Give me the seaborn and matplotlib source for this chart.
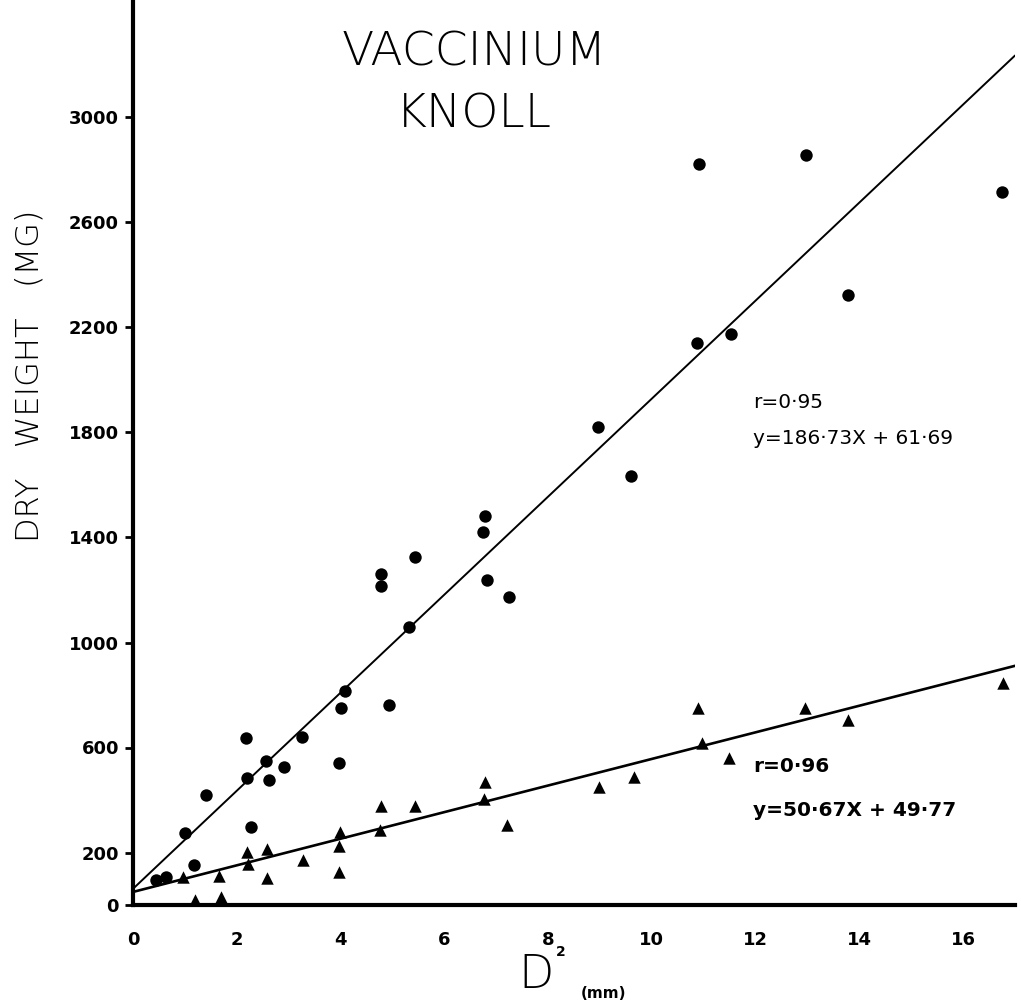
import matplotlib
matplotlib.use("Agg")
import matplotlib.pyplot as plt
import seaborn as sns
import numpy as np
import pandas as pd

# ---- data ----
total_x = [0.44, 0.64, 1.00, 1.18, 1.41, 2.18, 2.20, 2.27, 2.56, 2.62, 2.91, 3.26,
           4.01, 3.97, 4.08, 4.93, 4.78, 4.78, 5.43, 5.32, 6.78, 6.74, 6.82, 7.24,
           8.96, 9.60, 10.91, 10.87, 11.52, 12.97, 13.78, 16.74]
total_y = [95, 107, 274, 152, 419, 636, 484, 297, 549, 476, 526, 640,
           750, 541, 815, 762, 1261, 1215, 1326, 1059, 1482, 1421, 1238, 1173,
           1821, 1634, 2823, 2141, 2175, 2857, 2324, 2716]

leaf_x = [0.96, 1.19, 1.66, 1.70, 2.20, 2.22, 2.58, 2.58, 3.28, 3.99, 3.97, 3.97,
          4.76, 4.78, 5.43, 6.78, 6.76, 7.21, 8.98, 9.65, 10.89, 10.96, 11.48,
          12.95, 13.78, 16.76]
leaf_y = [107, 19, 110, 30, 202, 156, 213, 103, 171, 278, 225, 126,
          286, 377, 377, 469, 404, 305, 450, 488, 750, 617, 560,
          750, 706, 845]

fit_total = (186.73, 61.69)
fit_leaf = (50.67, 49.77)
x_ticks = [0, 2, 4, 6, 8, 10, 12, 14, 16]
y_ticks = [0, 200, 600, 1000, 1400, 1800, 2200, 2600, 3000]

title_lines = ["VACCINIUM", "KNOLL"]
eq_total = ["r=0·95", "y=186·73X + 61·69"]
eq_leaf = ["r=0·96", "y=50·67X + 49·77"]

# ---- figure ----
sns.set_theme(style="white")
plt.rcParams['font.family'] = ['DejaVu Sans']

W, H = 1021, 1008
fig = plt.figure(figsize=(W / 100, H / 100), dpi=100)
ax = fig.add_axes([133 / W, (H - 905) / H, (1015 - 133) / W, 905 / H])

df_t = pd.DataFrame({"x": total_x, "y": total_y})
df_l = pd.DataFrame({"x": leaf_x, "y": leaf_y})
sns.scatterplot(data=df_t, x="x", y="y", ax=ax, marker="o", s=80, color="black",
                edgecolor="black", linewidth=0, zorder=3)
sns.scatterplot(data=df_l, x="x", y="y", ax=ax, marker="^", s=80, color="black",
                edgecolor="black", linewidth=0, zorder=3)

xmax = 17.0
xs = np.array([0.0, xmax])
line_t = pd.DataFrame({"x": xs, "y": fit_total[0] * xs + fit_total[1]})
line_l = pd.DataFrame({"x": xs, "y": fit_leaf[0] * xs + fit_leaf[1]})
sns.lineplot(data=line_t, x="x", y="y", ax=ax, color="black", linewidth=1.4)
sns.lineplot(data=line_l, x="x", y="y", ax=ax, color="black", linewidth=1.9)

ax.set_xlim(0, xmax)
ax.set_ylim(0, 905 / 0.2625)
ax.set_xticks(x_ticks)
ax.set_yticks(y_ticks)
ax.set_xticklabels([str(v) for v in x_ticks], fontsize=13, fontweight="bold")
ax.set_yticklabels([str(v) for v in y_ticks], fontsize=13, fontweight="bold")
ax.tick_params(axis="y", direction="out", length=6, width=2, pad=4, left=True, colors="black")
ax.tick_params(axis="x", length=0, pad=19, colors="black")
ax.set_xlabel("")
ax.set_ylabel("")
for s in ["top", "right"]:
    ax.spines[s].set_visible(False)
for s in ["left", "bottom"]:
    ax.spines[s].set_linewidth(3)
    ax.spines[s].set_color("black")
ax.grid(False)

# title
fig.text(474 / W, 1 - 52 / H, title_lines[0], ha="center", va="center", fontsize=34,
         fontweight="light", color="black")
fig.text(474 / W, 1 - 115 / H, title_lines[1], ha="center", va="center", fontsize=34,
         fontweight="light", color="black")

# axis labels
fig.text(30 / W, 1 - 376 / H, "DRY   WEIGHT   (MG)", rotation=90, ha="center",
         va="center", fontsize=23, fontweight="light", color="black")
fig.text(536 / W, 1 - 975 / H, "D", ha="center", va="center", fontsize=33,
         fontweight="light", color="black")
fig.text(561 / W, 1 - 952 / H, "2", ha="center", va="center", fontsize=10,
         fontweight="bold", color="black")
fig.text(603 / W, 1 - 994 / H, "(mm)", ha="center", va="center", fontsize=11,
         fontweight="bold", color="black")

# equations
fig.text(753 / W, 1 - 402 / H, eq_total[0], ha="left", va="center", fontsize=14.5, color="black")
fig.text(753 / W, 1 - 438 / H, eq_total[1], ha="left", va="center", fontsize=14.5, color="black")
fig.text(753 / W, 1 - 767 / H, eq_leaf[0], ha="left", va="center", fontsize=14.5,
         fontweight="bold", color="black")
fig.text(753 / W, 1 - 810 / H, eq_leaf[1], ha="left", va="center", fontsize=14.5,
         fontweight="bold", color="black")

fig.savefig("out.png", dpi=100)
